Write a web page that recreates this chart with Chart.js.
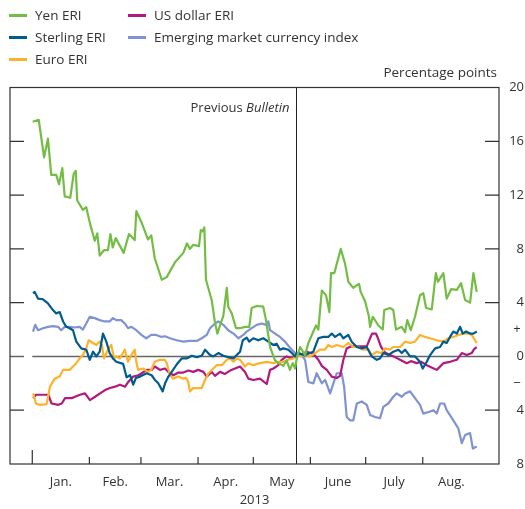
<!DOCTYPE html>
<html lang="en">
<head>
  <meta charset="UTF-8">
  <title>Exchange rate indices</title>
  <script src="https://cdn.jsdelivr.net/npm/chart.js"></script>
  <style>
    html, body { margin: 0; padding: 0; background: #fff; }
    body {
      width: 525px; height: 509px; position: relative; overflow: hidden;
      font-family: 'Open Sans', sans-serif; color: #333;
    }
    #chart { position: absolute; left: 0; top: 0; }
    .key { position: absolute; font-size: 13.5px; line-height: 16px; white-space: nowrap; }
    .key i { position: absolute; left: 0; top: 7px; width: 18px; height: 3px; }
    .key span { position: absolute; left: 26px; top: 0; }
    #units { position: absolute; right: 28px; top: 64px; font-size: 13.5px; line-height: 16px; }
  </style>
</head>
<body>
  <canvas id="chart" width="525" height="509"></canvas>
  <div id="legend"></div>
  <div id="units">Percentage points</div>

  <script>
    // x values are days since 1 January 2013
    const monthLabels = ['Jan.', 'Feb.', 'Mar.', 'Apr.', 'May', 'June', 'July', 'Aug.'];
    const monthStarts = [0, 31, 59, 90, 120, 151, 181, 212];
    const monthMids = [15.5, 45, 74.5, 105, 135.5, 166, 196.5, 227.5];
    const bulletinDay = 143.2;
    const yTicks = [20, 16, 12, 8, 4, 2, 0, -2, -4, -8];
    const yTickLabels = ['20', '16', '12', '8', '4', '+ ', '0', '\u2212 ', '4', '8'];
    const yMarks = [16, 12, 8, 4, -4];

    const yen = [[0.2,17.45],[3.5,17.6],[6.4,14.8],[8.5,16.2],[10.3,13.5],[13,13.5],[14.5,12.8],[16.3,14],[17.6,11.9],[20.6,11.8],[22.5,13.6],[23.6,13.8],[24.4,11.6],[27.5,10.9],[29.3,11.1],[31.5,9.8],[33.9,8.6],[35.3,9.15],[36.6,7.5],[38.9,7.9],[41.1,7.9],[42.4,9.1],[43.7,8.1],[45.3,8.8],[49.6,7.7],[52.5,9.1],[55.6,8.65],[56.5,10.8],[59.2,10],[62.8,8.7],[64.6,9],[66.5,7.3],[70.3,5.7],[73,5.9],[77.5,7],[82,7.7],[84,8.4],[85.6,8],[87.4,8.3],[90.5,8.2],[91.5,9.4],[92.5,9.3],[93.4,9.6],[94.3,5.7],[97.4,4.2],[99.2,2.5],[100.5,1.7],[101.9,2.3],[103.7,3],[105.6,5.1],[106.4,3.7],[108.3,3.2],[110.6,2.1],[112.8,2.1],[115.5,2.2],[117.8,2.2],[119.1,3.6],[121.9,3.75],[125.4,3.7],[126.9,2.7],[129.1,0.7],[131.8,-0.3],[133.6,-0.5],[136.3,-0.7],[138.1,-0.3],[139.9,-1],[141.4,-0.5],[142.7,-0.9],[143.7,-0.05],[145.4,0.7],[148.1,0.1],[149.9,1],[152.6,1.85],[154.1,2.3],[155.3,2],[157.2,4.9],[159.5,4.55],[161.3,3.3],[162.2,6.2],[164,6.2],[167.5,8],[169.8,6.9],[171.6,5.55],[174.3,5.1],[176.2,5.3],[177.4,5.4],[178.3,4.8],[180.7,4.1],[182.8,2.95],[183.4,2.2],[184.9,2.95],[187.9,2.3],[190.3,2],[191.1,3.45],[194.2,3.6],[196,3.45],[197.5,2],[200.6,2.2],[202.4,1.8],[203.6,2.7],[205.5,1.95],[207.8,2.95],[210.5,4.55],[212.3,4.7],[213.8,3.6],[216.9,3.5],[219.1,6.2],[220.2,5.55],[223.2,6.2],[225,4.3],[227.4,5],[230.5,4.95],[232.8,5.45],[235,4.2],[237.7,4],[239.5,6.2],[241.3,4.8]];

    const sterling = [[0.4,4.7],[1.3,4.8],[3.1,4.3],[5.8,4.25],[8.5,3.95],[11.2,3.45],[13,3.2],[14.9,3.3],[16.7,2.6],[18.5,2.2],[20.3,2.1],[22.1,1.95],[23.9,1.1],[26.6,0.6],[29.3,0.5],[31.2,-0.25],[33,0.35],[34.8,0],[36.6,0.35],[38.4,1.7],[40.2,1.1],[42,0.25],[43.8,-0.15],[45.6,-0.4],[49.3,-0.55],[51.2,-1.55],[53.1,-1.4],[54.8,-2.1],[56.3,-1.6],[58.5,-1.5],[62.1,-1.25],[64.8,-1.4],[66.6,-1.75],[68.4,-2],[70.8,-2.6],[72.1,-2],[73.9,-1.5],[75.7,-1.15],[78.4,-0.6],[81.1,-0.15],[83.8,-0.15],[86.6,0.05],[89.3,-0.05],[92,0.05],[93.8,0.5],[96.5,0.1],[98.3,0],[101,0.25],[103.7,0.05],[106.4,-0.05],[109.2,-0.15],[111,0.1],[112.8,0.35],[114.3,1.2],[116.4,1.4],[117.8,1.1],[120,1.35],[122.7,1.2],[125.4,1.35],[128.2,1.1],[130.9,0.85],[132.7,0.95],[134.5,0.5],[136.3,0.6],[139,0.5],[140.9,0.25],[142.7,0],[143.6,0.25],[148.1,0.1],[152.6,0.35],[155.3,1.35],[158,1.45],[160.7,1.45],[162.6,1.7],[164.4,1.45],[167.1,1.7],[168.9,1.35],[171.6,1.6],[173.4,1.1],[176.2,0.7],[178.9,0.6],[181.6,0.7],[184.3,0],[187,-0.25],[188.8,-0.15],[190.6,0.25],[193.3,0.1],[196,0.35],[198.8,0.5],[200.6,0.25],[202.4,0.5],[205.1,0],[207.8,0],[210.5,-0.4],[212,-0.9],[214.2,-0.4],[216,0.1],[218.7,0.6],[221.4,0.7],[223.2,1.1],[225,1],[226.8,1.45],[228.6,1.85],[230.5,1.7],[232.3,2.2],[233.7,1.7],[235.5,1.85],[237.7,1.7],[239.5,1.7],[241.3,1.85]];

    const euro = [[0.5,-2.75],[2,-3.5],[4.2,-3.6],[7.8,-3.55],[9.6,-2.25],[12.2,-1.65],[14.9,-1.5],[16.7,-1],[20.3,-1],[22.1,-0.75],[23.9,-0.5],[25.7,-0.15],[27.5,0.1],[29.3,0.6],[30.6,1.2],[33,1],[34.8,0.85],[36.6,1.1],[37.8,0.85],[38.9,-0.15],[41.1,0.5],[42.9,0.85],[44.4,-0.15],[45.6,0],[47.5,-0.15],[50.2,0.5],[52,-0.4],[53.8,0.1],[55.6,0.5],[56.5,-0.4],[57.4,-1],[60.1,-0.9],[62.8,-1.15],[64.6,-1],[66.5,-0.4],[69.2,-0.25],[71.9,-0.25],[73,-0.5],[74.8,-1.4],[76.6,-1.65],[79.3,-1.5],[81.8,-1.65],[83.5,-1.6],[84.7,-1.9],[85.6,-2.6],[87.4,-2.35],[89.3,-2.35],[92,-2.35],[93.8,-1.75],[95.6,-1.25],[98.3,-0.9],[100.1,-0.65],[102.9,-0.65],[105.6,-0.25],[107.4,-0.15],[109.2,-0.4],[111,-0.15],[112.8,-0.25],[115.5,-0.75],[117.3,-0.5],[120,-0.65],[123.6,-0.5],[127.3,-0.4],[130.9,-0.5],[133.6,-0.4],[136.3,-0.4],[139,-0.25],[141.7,-0.15],[143.6,0],[148.1,0.1],[150.8,0],[153.5,0.25],[156.2,0.5],[158.9,0.5],[160.7,0.85],[162.6,0.7],[165.3,0.85],[168.9,0.7],[171.6,1],[174.3,0.7],[177,0.7],[179.7,0.5],[182.5,0.5],[184.3,0.1],[187,0.35],[189.7,0.25],[191.5,0.6],[194.2,0.5],[196,0.7],[199.7,0.7],[202.4,1.1],[205.1,1],[207.8,1.1],[210.5,1.6],[213.2,1.45],[215.9,1.35],[219.6,1.2],[223.2,1.1],[225.9,1.35],[228.6,1.45],[231.3,1.6],[234.1,1.7],[236.8,1.7],[238.6,1.6],[240.4,1.2],[241.3,1]];

    const usDollar = [[0.5,-3.1],[2,-2.85],[6,-2.85],[8.7,-2.85],[10.5,-3.5],[14.1,-3.6],[16,-3.5],[17.8,-3.1],[21.4,-3.1],[23.2,-3],[25.9,-2.85],[28.6,-2.75],[31.3,-3.25],[34.1,-3],[36.8,-2.75],[39.5,-2.5],[42.2,-2.35],[44.9,-2.25],[47.6,-2.1],[50.4,-2.25],[52.1,-1.9],[54.8,-1.5],[57.6,-1.4],[59.4,-1.25],[62.1,-1],[64.8,-1],[66.6,-0.75],[69.3,-1],[72.1,-0.9],[73.9,-1.15],[76.6,-1.4],[79.3,-1.2],[82,-1.2],[84.7,-1.05],[87.4,-1.15],[90.1,-1],[92.9,-1.15],[94.7,-1.5],[97.4,-1.15],[99.2,-1.45],[101.9,-1.15],[104.6,-1.3],[107.4,-1.05],[110.1,-0.9],[112.8,-0.75],[115.5,-1.15],[117.3,-1.65],[120,-1.75],[123.6,-1.65],[127.3,-2.05],[129.1,-1],[130.9,-0.9],[133.6,-0.65],[135.4,-0.25],[138.1,0],[140.9,-0.15],[142.7,0],[143.6,0.1],[145.4,0.1],[149,0.35],[152.6,0.2],[155.3,-0.25],[157.2,-0.7],[159.9,-1],[162.6,-1.5],[165.3,-1.6],[167.1,-1.45],[168.9,-0.25],[170.7,0.6],[173.4,0.75],[176.2,0.75],[178.9,0.75],[181.6,0.75],[183.4,1.35],[184.5,1.7],[186.6,1.7],[187.7,1.35],[189.4,0.7],[191.5,0.3],[194.2,0.1],[196.9,-0.05],[199.7,-0.25],[203.3,-0.5],[205.6,-0.35],[208.7,-0.5],[211.1,-0.4],[214.2,-0.65],[216.5,-0.8],[219.6,-1],[223.2,-0.5],[226.8,-0.4],[230.5,-0.25],[233.2,0.25],[235.9,0.1],[238.6,0.25],[239.9,0.55],[241.3,0.7]];

    const emerging = [[0.4,1.85],[1.6,2.35],[3.1,1.95],[5.8,2.1],[8.5,2.2],[11.2,2.25],[14,2.2],[15.7,1.95],[17.6,2.2],[20.3,2.2],[23,2.15],[25.7,2.2],[27.5,2],[29.3,2.45],[31.2,2.95],[33.9,2.85],[36.6,2.7],[39.3,2.6],[42,2.6],[43.8,2.85],[45.6,2.7],[48.3,2.7],[50.2,2.45],[52,2.1],[53.8,2.2],[56.5,1.95],[59.2,1.6],[61.9,1.35],[64.6,1.6],[67.3,1.6],[70.1,1.45],[72.1,1.5],[74.8,1.35],[78.4,1.2],[82,1.1],[85.6,1.15],[89.3,1.15],[92,1.35],[94.7,1.6],[96.5,2.1],[99.2,2.45],[101,2.6],[103.7,2.35],[106.4,1.95],[109.2,1.7],[111.9,1.35],[114.6,1.6],[116.4,1.85],[119.1,2.1],[121.9,2.35],[124.6,2.45],[126.9,2.35],[128.2,2.6],[129.1,1.95],[131.8,1.7],[134.5,1.45],[137.2,1.1],[139.9,0.65],[142.7,0.25],[145.4,0.25],[148.1,-0.25],[149.9,-1.9],[152.6,-2],[154.4,-1.25],[157.2,-2],[159,-1.75],[161.7,-2.75],[163.5,-2],[165.3,-1.25],[168,-1.25],[169.3,-2.25],[170.7,-4.5],[172.5,-4.75],[174.3,-4.75],[176.2,-3.5],[178.9,-3.35],[181.6,-3.6],[183.4,-4.35],[186.1,-4.5],[188.8,-4.6],[190.6,-3.75],[193.3,-3.5],[196,-3],[197.9,-2.75],[200.6,-3],[202.4,-2.75],[205.1,-2.6],[207.8,-3.1],[210.5,-3.6],[212.3,-4.25],[216,-4.1],[217.8,-4],[219.6,-4.25],[221.4,-3.5],[223.6,-3.5],[225,-4],[228.6,-4.75],[231.3,-5.35],[233.2,-6.45],[235,-5.85],[237.7,-5.7],[239.2,-6.85],[241.3,-6.7]];

    const seriesNames = ['Yen ERI', 'Sterling ERI', 'Euro ERI', 'US dollar ERI', 'Emerging market currency index'];
    const seriesData = [yen, sterling, euro, usDollar, emerging];
    const seriesColors = ['#74bd44', '#005b8e', '#fdb22b', '#b2197f', '#7f92d2'];

    // legend (two columns, filled column by column)
    const keyPos = [[9, 7], [9, 29], [9, 51], [128, 7], [128, 29]];
    const legend = document.getElementById('legend');
    seriesNames.forEach((name, i) => {
      const el = document.createElement('div');
      el.className = 'key';
      el.style.left = keyPos[i][0] + 'px';
      el.style.top = keyPos[i][1] + 'px';
      el.innerHTML = '<i style="background:' + seriesColors[i] + '"></i><span>' + name + '</span>';
      legend.appendChild(el);
    });

    const axisColor = '#333';
    const font = { family: "'Open Sans', sans-serif", size: 13 };

    const decorations = {
      id: 'decorations',
      beforeDatasetsDraw(chart) {
        const { ctx, chartArea: a, scales: { x, y } } = chart;
        ctx.save();
        // zero line
        const y0 = y.getPixelForValue(0);
        ctx.strokeStyle = '#666';
        ctx.lineWidth = 1.6;
        ctx.beginPath();
        ctx.moveTo(a.left, y0); ctx.lineTo(a.left + 14, y0);
        ctx.moveTo(x.getPixelForValue(monthStarts[0]), y0); ctx.lineTo(a.right, y0);
        ctx.stroke();
        // previous Bulletin marker
        const xb = Math.round(x.getPixelForValue(bulletinDay)) + 0.5;
        ctx.strokeStyle = '#222';
        ctx.lineWidth = 1;
        ctx.beginPath();
        ctx.moveTo(xb, a.top); ctx.lineTo(xb, a.bottom);
        ctx.stroke();
        ctx.fillStyle = axisColor;
        ctx.textBaseline = 'middle';
        ctx.textAlign = 'right';
        ctx.font = "italic 13px 'Open Sans', sans-serif";
        const wItal = ctx.measureText('Bulletin').width;
        ctx.fillText('Bulletin', xb - 7, a.top + 21);
        ctx.font = "13px 'Open Sans', sans-serif";
        ctx.fillText('Previous ', xb - 7 - wItal, a.top + 21);
        ctx.restore();
      },
      afterDatasetsDraw(chart) {
        const { ctx, chartArea: a, scales: { x, y } } = chart;
        ctx.save();
        ctx.strokeStyle = axisColor;
        ctx.lineWidth = 1.2;
        ctx.strokeRect(a.left, a.top, a.right - a.left, a.bottom - a.top);
        ctx.beginPath();
        yMarks.forEach(v => {
          const py = y.getPixelForValue(v);
          ctx.moveTo(a.left, py); ctx.lineTo(a.left + 14, py);
          ctx.moveTo(a.right - 14, py); ctx.lineTo(a.right, py);
        });
        monthStarts.forEach((d, i) => {
          const px = x.getPixelForValue(d);
          ctx.moveTo(px, a.bottom); ctx.lineTo(px, a.bottom - (i === 0 ? 14 : 7));
        });
        ctx.stroke();
        ctx.restore();
      }
    };

    new Chart(document.getElementById('chart'), {
      type: 'line',
      data: {
        datasets: seriesNames.map((name, i) => ({
          label: name,
          data: seriesData[i].map(p => ({ x: p[0], y: p[1] })),
          borderColor: seriesColors[i],
          backgroundColor: seriesColors[i],
          borderWidth: 2.2,
          borderJoinStyle: 'round',
          pointRadius: 0,
          tension: 0,
          fill: false
        }))
      },
      options: {
        responsive: false,
        animation: false,
        events: [],
        layout: { padding: { top: 87.5, left: 10, right: 1, bottom: 1 } },
        plugins: { legend: { display: false }, tooltip: { enabled: false } },
        scales: {
          x: {
            type: 'linear',
            min: -12.1,
            max: 253.4,
            grid: { display: false, drawTicks: false },
            border: { display: false },
            afterBuildTicks: s => { s.ticks = monthMids.map(v => ({ value: v })); },
            afterFit: s => { s.height = 44; },
            ticks: {
              autoSkip: false, maxRotation: 0, padding: 10,
              color: axisColor, font,
              callback: (v, i) => monthLabels[i]
            },
            title: { display: true, text: '2013', color: axisColor, font, padding: { top: 0, bottom: 0 } }
          },
          y: {
            position: 'right',
            min: -8,
            max: 20,
            grid: { display: false, drawTicks: false },
            border: { display: false },
            afterBuildTicks: s => { s.ticks = yTicks.map(v => ({ value: v })); },
            afterFit: s => { s.width = 25; },
            ticks: {
              crossAlign: 'far', color: axisColor, font,
              callback: (v, i) => yTickLabels[i]
            }
          }
        }
      },
      plugins: [decorations]
    });
  </script>
</body>
</html>
